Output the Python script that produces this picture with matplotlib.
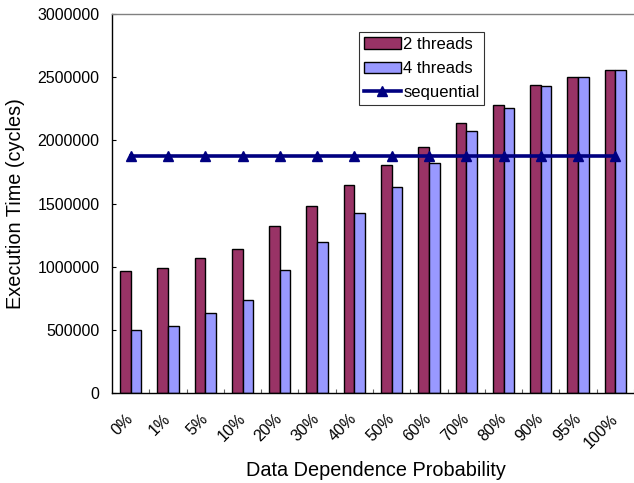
import numpy as np
import matplotlib
matplotlib.use("Agg")
import matplotlib.pyplot as plt

plt.rcParams["font.family"] = ["Liberation Sans", "DejaVu Sans"]

# data
categories = ["0%", "1%", "5%", "10%", "20%", "30%", "40%", "50%",
              "60%", "70%", "80%", "90%", "95%", "100%"]
two_threads = [968000, 992000, 1071000, 1142000, 1322000, 1483000, 1644000,
               1802000, 1947000, 2135000, 2280000, 2435000, 2504000, 2559000]
four_threads = [501000, 530000, 631000, 734000, 976000, 1198000, 1422000,
                1633000, 1823000, 2071000, 2256000, 2430000, 2499000, 2554000]
sequential = [1876000] * len(categories)
y_ticks = [0, 500000, 1000000, 1500000, 2000000, 2500000, 3000000]

W, H = 634, 483
CAT_PX = 37.5  # width of one category in pixels
fig = plt.figure(figsize=(W / 100, H / 100), dpi=100)
ax = fig.add_axes([112 / W, 90 / H, 1 - 112 / W, 379 / H])

x = np.arange(len(categories))
bw = 0.285
b2 = ax.bar(x - bw / 2, two_threads, bw, color="#993366", edgecolor="black",
            linewidth=1.0, label="2 threads", zorder=2)
b4 = ax.bar(x + bw / 2, four_threads, bw, color="#9999FF", edgecolor="black",
            linewidth=1.0, label="4 threads", zorder=2)
seq, = ax.plot(x, sequential, color="#000080", linewidth=2.6, marker="^",
               markersize=7.5, label="sequential", zorder=3)

# plot area runs slightly past the right edge of the image
ax.set_xlim(-0.5, -0.5 + (W - 112) / CAT_PX)
ax.set_ylim(0, 3000000)
ax.set_yticks(y_ticks)
ax.set_yticklabels([str(v) for v in y_ticks], fontsize=11.5)
ax.tick_params(axis="y", direction="in", length=3, pad=9, width=0.8)

# category ticks sit between groups; labels (minor ticks) a bit left of centre
ax.set_xticks(x + 0.5)
ax.set_xticklabels([])
ax.set_xticks(x - 5 / CAT_PX, minor=True)
ax.set_xticklabels(categories, minor=True, rotation=45, ha="right",
                   va="top", rotation_mode="anchor", fontsize=11.5)
ax.tick_params(axis="x", which="major", direction="in", length=3, width=0.8,
               color="#606060")
ax.tick_params(axis="x", which="minor", length=0, pad=13)

for side in ("left", "bottom"):
    ax.spines[side].set_color("black")
    ax.spines[side].set_linewidth(1.0)
ax.spines["top"].set_color("#808080")
ax.spines["top"].set_linewidth(1.0)
ax.spines["right"].set_visible(False)

ax.set_ylabel("Execution Time (cycles)", fontsize=14.3)
ax.yaxis.set_label_coords(16 / W, (H - 203.5) / H, transform=fig.transFigure)
ax.set_xlabel("Data Dependence Probability", fontsize=14.3)
ax.xaxis.set_label_coords((246 + 505) / 2 / W, (H - 471) / H,
                          transform=fig.transFigure)
ax.xaxis.label.set_va("center")
ax.yaxis.label.set_va("center")

leg = ax.legend([b2, b4, seq], ["2 threads", "4 threads", "sequential"],
                loc="upper left", bbox_to_anchor=(359 / W, (H - 32) / H),
                bbox_transform=fig.transFigure,
                fontsize=12, frameon=True, fancybox=False, edgecolor="black",
                handlelength=2.2, handleheight=0.7, handletextpad=0.15,
                borderpad=0.3, labelspacing=0.55, borderaxespad=0)
leg.get_frame().set_linewidth(0.8)

fig.savefig("out.png", dpi=100, facecolor="white")
